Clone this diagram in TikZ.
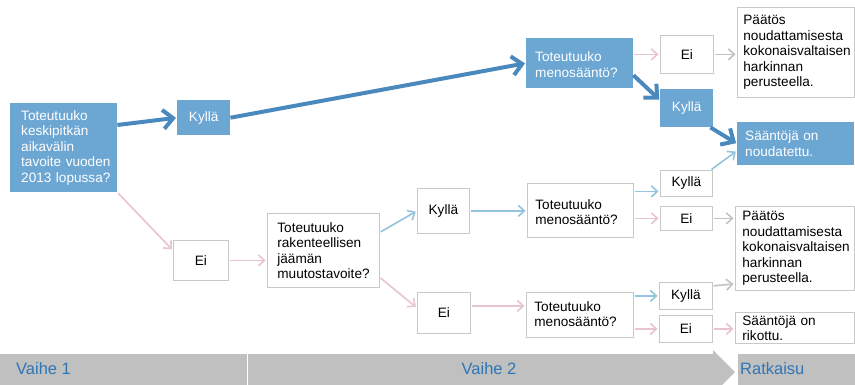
\documentclass[tikz,border=0pt]{standalone}
\usepackage{fontspec}
\setmainfont{Liberation Sans}
\usepackage{tikz}
\usetikzlibrary{arrows.meta}
\usepackage{xcolor}
\definecolor{boxblue}{HTML}{6CA6D3}
\definecolor{arrowblue}{HTML}{4A89BE}
\definecolor{lineblue}{HTML}{94C3DE}
\definecolor{linepink}{HTML}{E8C3D1}
\definecolor{linegray}{HTML}{C2C2C2}
\definecolor{boxline}{HTML}{C8C8C8}
\definecolor{bargray}{HTML}{C0C0C0}
\definecolor{bartext}{HTML}{2F76B7}

\tikzset{
  bluebox/.style={fill=boxblue,text=white,anchor=north west,inner ysep=2pt},
  whitebox/.style={draw=boxline,fill=white,line width=0.8pt,anchor=north west,inner ysep=2pt},
  qtext/.style={align=left,execute at begin node={\hyphenpenalty=10000\exhyphenpenalty=10000\hbadness=10000\hfuzz=20pt}},
  bartxt/.style={text=bartext,font=\fontsize{16.5pt}{18pt}\selectfont,inner sep=1pt},
  thickarr/.style={draw=arrowblue,line width=4pt,-{Straight Barb[length=10pt,width=19pt]},shorten >=1pt},
  thinarr/.style={line width=1.6pt,-{Straight Barb[length=6pt,width=11pt]},shorten >=1.5pt,shorten <=1pt},
  bluearr/.style={thinarr,draw=lineblue},
  pinkarr/.style={thinarr,draw=linepink},
  grayarr/.style={thinarr,draw=linegray}
}

\begin{document}
\begin{tikzpicture}[x=1pt,y=-1pt,font=\fontsize{13.6pt}{15.5pt}\selectfont]
        \useasboundingbox (0,0) rectangle (855,384);
        \clip (0,0) rectangle (855,384);
        % Vaiheet
        \fill[bargray] (0,354) rectangle (246.5,392);
        \fill[bargray] (247.5,354) rectangle (713,392);
        \fill[bargray] (713,350) -- (735,372) -- (713,394) -- cycle;
        \fill[bargray] (738,354) rectangle (855,392);
        \node[bartxt,anchor=west] (v1) at (15,369) {Vaihe 1};
        \node[bartxt] (v2) at (489,369) {Vaihe 2};
        \node[bartxt,anchor=west] (rk) at (739,369) {Ratkaisu};
        % Vaihe 1
        \node[bluebox,qtext,text width=85pt,inner xsep=11pt,minimum height=89pt] (q1) at (10,103)
          {Toteutuuko\\keskipitkän\\aikavälin\\tavoite~vuoden\\2013~lopussa?};
        \node[bluebox,minimum width=53pt,minimum height=35pt] (ky1) at (177,100) {Kyllä};
        \node[whitebox,minimum width=55pt,minimum height=40pt] (ei2) at (173,240) {Ei};
        % Ylähaara
        \node[bluebox,qtext,text width=89pt,inner xsep=9pt,minimum height=50pt,text depth=13pt] (qm1) at (526,38)
          {Toteutuuko\\menosääntö?};
        \node[whitebox,minimum width=53pt,minimum height=38pt] (ei1) at (660,35) {Ei};
        \node[bluebox,minimum width=53pt,minimum height=38pt] (ky2) at (660,89) {Kyllä};
        \node[whitebox,qtext,text width=105pt,inner xsep=6pt,minimum height=90pt] (pa1) at (737,7)
          {Päätös\\noudattamisesta\\kokonaisvaltaisen\\harkinnan\\perusteella.};
        \node[bluebox,qtext,text width=101pt,inner xsep=8pt,minimum height=43pt] (sa1) at (737,122)
          {Sääntöjä~on\\noudatettu.};
        % Alahaara
        \node[whitebox,qtext,text width=92pt,inner xsep=10pt,minimum height=74pt] (qr) at (267,213)
          {Toteutuuko\\rakenteellisen\\jäämän\\muutostavoite?};
        \node[whitebox,minimum width=52pt,minimum height=45pt] (ky3) at (417,188) {Kyllä};
        \node[whitebox,minimum width=53pt,minimum height=41pt] (ei3) at (417,292) {Ei};
        \node[whitebox,qtext,text width=90pt,inner xsep=8pt,minimum height=54pt,text depth=12pt] (qm2) at (527,183)
          {Toteutuuko\\menosääntö?};
        \node[whitebox,qtext,text width=91pt,inner xsep=8pt,inner ysep=1pt,minimum height=45pt,text depth=17pt] (qm3) at (526,292)
          {Toteutuuko\\menosääntö?};
        \node[whitebox,minimum width=52pt,minimum height=26pt] (ky4) at (660,170) {Kyllä};
        \node[whitebox,minimum width=52pt,minimum height=24pt] (ei4) at (660,206) {Ei};
        \node[whitebox,minimum width=53pt,minimum height=27pt] (ky5) at (659,282) {Kyllä};
        \node[whitebox,minimum width=53pt,minimum height=27pt] (ei5) at (659,315) {Ei};
        \node[whitebox,qtext,text width=105pt,inner xsep=7pt,minimum height=84pt] (pa2) at (735,206)
          {Päätös\\noudattamisesta\\kokonaisvaltaisen\\harkinnan\\perusteella.};
        \node[whitebox,qtext,text width=105pt,inner xsep=7pt,inner ysep=0.5pt,minimum height=31pt] (sa2) at (735,312)
          {Sääntöjä~on\\rikottu.};
        % Paksut nuolet
        \draw[thickarr] ([yshift=-22pt]q1.north east) -- (ky1.west);
        \draw[thickarr] (ky1.east) -- (qm1.west);
        \draw[thickarr] ([yshift=-12pt]qm1.east) -- ([yshift=8pt]ky2.west);
        \draw[thickarr] ([xshift=-3pt]ky2.south east) -- (sa1.west);
        % Ohuet nuolet
        \draw[pinkarr] (q1.south east) -- ([yshift=10pt]ei2.west);
        \draw[bluearr] ([yshift=18pt]qr.east) -- (ky3.west);
        \draw[pinkarr] ([yshift=-27pt]qr.east) -- ([yshift=5pt]ei3.west);
        \draw[pinkarr] ([yshift=7pt]ei3.east) -- ([yshift=7pt]ei3.east -| qm3.west);
        \draw[bluearr] ([yshift=-8pt]qm2.east |- ky4.west) -- ([yshift=-8pt]ky4.west);
        \draw[bluearr] ([xshift=-2pt]ky4.north east) -- ([yshift=-7pt]sa1.west);
        \draw[grayarr] ([yshift=10pt]ky5.east) -- ([yshift=7pt]pa2.south west);
        \foreach \a/\b in {ei2/qr, ei5/sa2}{
          \draw[pinkarr] (\a.east) -- (\a.east -| \b.west);}
        \foreach \a/\b in {ei1/pa1, ei4/pa2}{
          \draw[grayarr] (\a.east) -- (\a.east -| \b.west);}
        \draw[bluearr] (ky3.east) -- (ky3.east -| qm2.west);
        \foreach \a/\b in {qm1/ei1, qm2/ei4, qm3/ei5}{
          \draw[pinkarr] (\a.east |- \b.west) -- (\b.west);}
        \draw[bluearr] (qm3.east |- ky5.west) -- (ky5.west);
\end{tikzpicture}
\end{document}
